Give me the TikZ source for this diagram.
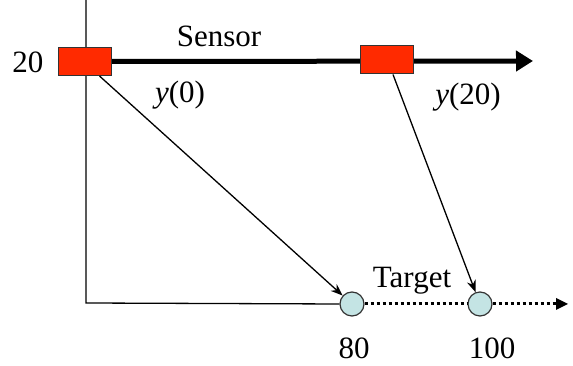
\documentclass[tikz,border=0pt]{standalone}
\usepackage{fontspec}
\setmainfont{Liberation Serif}
\usetikzlibrary{arrows.meta}
\definecolor{sensred}{HTML}{FF2A00}
\definecolor{tgtcyan}{HTML}{C4E4E4}
\tikzset{
  lbl/.style={font=\fontsize{31}{35}\selectfont, inner sep=0pt, anchor=base},
  sensorbox/.style={draw=black!80, line width=1pt, fill=sensred, minimum width=53pt, minimum height=28pt, inner sep=0pt},
  targetdot/.style={circle, draw=black!80, line width=1.2pt, fill=tgtcyan, minimum size=24pt, inner sep=0pt},
  thinline/.style={line width=1.3pt},
  ray/.style={line width=1.3pt, -{Stealth[length=12pt,width=9pt]}},
  track/.style={line width=5pt, -{Triangle[length=17pt,width=20pt]}},
  dotpath/.style={line width=3pt, dash pattern=on 3pt off 3pt},
}
\begin{document}
\begin{tikzpicture}[x=1pt,y=1pt]
\useasboundingbox (0,0) rectangle (573,366);
% axes
\coordinate (top) at (86,366);
\coordinate (corner) at (86,63);
\node[targetdot] (t1) at (352,62) {};
\node[targetdot] (t2) at (480,62) {};
\coordinate (tend) at (568,62);
\coordinate (send) at (533,305);
\draw[thinline] (top) -- (corner) -- (t1.west);
% sensor track
\node[sensorbox] (s1) at (84.5,304.5) {};
\node[sensorbox] (s2) at (386.5,306) {};
\draw[track] (s1.east) -- (send);
\node[sensorbox] at (s2) {};
\node[sensorbox] at (s1) {};
% target track
\draw[dotpath] (t1.east) -- (t2.west);
\draw[dotpath] (t2.east) -- ([xshift=-9pt]tend);
\fill ([xshift=-12pt]tend) -- ++(0,6) -- (tend) -- ++(-12,-6) -- cycle;
% rays
\draw[ray] ([xshift=15pt]s1.south) -- (t1);
\draw[ray] ([xshift=6.5pt]s2.south) -- (t2);
% labels
\node[lbl] (l20) at (28,293) {20};
\node[lbl] (lsensor) at (219,319) {Sensor};
\node[lbl] (ly0) at (180,263) {\textit{y}(0)};
\node[lbl] (ly20) at (468,261) {\textit{y}(20)};
\node[lbl] (ltarget) at (412,78) {Target};
\node[lbl] (l80) at (354,7) {80};
\node[lbl] (l100) at (492,7) {100};
\end{tikzpicture}
\end{document}
